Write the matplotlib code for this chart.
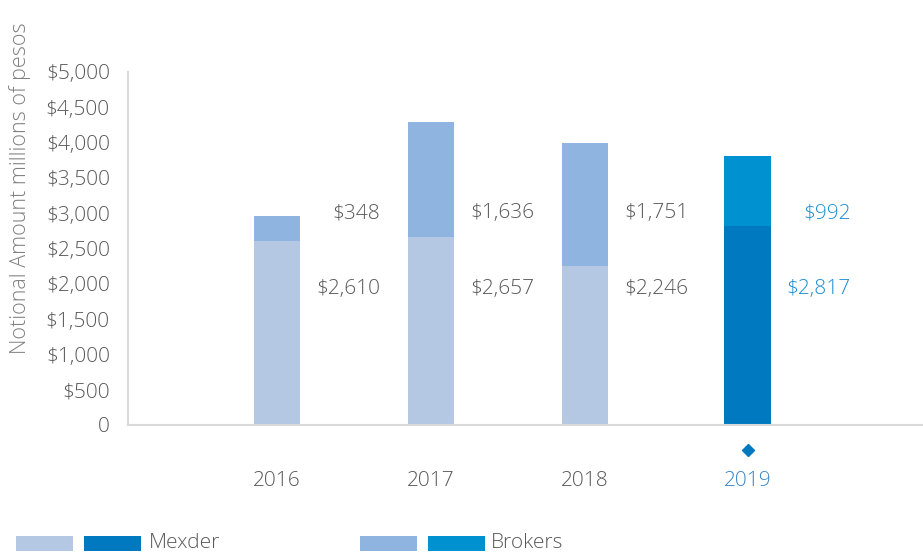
import matplotlib
matplotlib.use("Agg")
import matplotlib.pyplot as plt
from matplotlib.patches import Rectangle
from matplotlib.transforms import blended_transform_factory
import numpy as np

years = ["2016", "2017", "2018", "2019"]
mexder = [2610, 2657, 2246, 2817]
brokers = [348, 1636, 1751, 992]
mexder_labels = ["$2,610", "$2,657", "$2,246", "$2,817"]
brokers_labels = ["$348", "$1,636", "$1,751", "$992"]
yticks = [0, 500, 1000, 1500, 2000, 2500, 3000, 3500, 4000, 4500, 5000]
ytick_labels = ["0", "$500", "$1,000", "$1,500", "$2,000", "$2,500", "$3,000",
                "$3,500", "$4,000", "$4,500", "$5,000"]

plt.rcParams['font.family'] = ['Open Sans', 'DejaVu Sans']
plt.rcParams['font.weight'] = 'light'

GRAY = "#595959"
C_MEX_LIGHT = "#B4C8E3"
C_MEX_DARK = "#0079C1"
C_BRK_LIGHT = "#8EB4DF"
C_BRK_DARK = "#0091D1"
C_HL_TEXT = "#1E8FD2"
C_HL_TICK = "#3A84C5"
FS = 15

fig = plt.figure(figsize=(9.23, 5.54), dpi=100)
ax = fig.add_axes([128/923, 129/554, 794/923, 353/554])

highlight = np.array([y == "2019" for y in years])
# highlighted year sits slightly apart from the others
x = np.arange(len(years)) + 0.055 * highlight
mex_colors = [C_MEX_DARK if h else C_MEX_LIGHT for h in highlight]
brk_colors = [C_BRK_DARK if h else C_BRK_LIGHT for h in highlight]

ax.bar(x, mexder, width=0.30, color=mex_colors, linewidth=0)
ax.bar(x, brokers, width=0.30, bottom=mexder, color=brk_colors, linewidth=0)

ax.set_xlim(-0.968, 4.188)
ax.set_ylim(0, 5000)

for i in range(len(years)):
    col = C_HL_TEXT if highlight[i] else GRAY
    ax.text(x[i] + 0.67, 1925, mexder_labels[i], ha="right", va="center",
            fontsize=FS, color=col, fontweight="light")
    ax.text(x[i] + 0.67, 3000, brokers_labels[i], ha="right", va="center",
            fontsize=FS, color=col, fontweight="light")

ax.set_yticks(yticks)
ax.set_yticklabels(ytick_labels, fontsize=FS, color=GRAY, fontweight="light")
ax.set_xticks(x)
ax.set_xticklabels(years, fontsize=FS, color=GRAY, fontweight="light")
for lbl, h in zip(ax.get_xticklabels(), highlight):
    if h:
        lbl.set_color(C_HL_TICK)
ax.tick_params(axis="both", length=0)
ax.tick_params(axis="x", pad=33)
ax.tick_params(axis="y", pad=13)

for s in ["top", "right"]:
    ax.spines[s].set_visible(False)
for s in ["left", "bottom"]:
    ax.spines[s].set_color("#D9D9D9")
    ax.spines[s].set_linewidth(1.5)

trans = blended_transform_factory(ax.transData, ax.transAxes)
for i in range(len(years)):
    if highlight[i]:
        ax.plot([x[i]], [-0.07], marker="D", markersize=6, color=C_MEX_DARK,
                transform=trans, clip_on=False)

fig.text(20/923, 1 - 188/554, "Notional Amount millions of pesos", rotation=90,
         ha="center", va="center", fontsize=15.5, color="#808080", fontweight="light")

# legend
def legend_entry(x0, x1, xt, c1, c2, label):
    h = 15/554
    w = 57/923
    y0 = 1 - 551/554
    fig.add_artist(Rectangle((x0/923, y0), w, h, transform=fig.transFigure,
                             color=c1, linewidth=0))
    fig.add_artist(Rectangle((x1/923, y0), w, h, transform=fig.transFigure,
                             color=c2, linewidth=0))
    fig.text(xt/923, y0 + h/2, label, ha="left", va="center",
             fontsize=FS, color=GRAY, fontweight="light")

legend_entry(16, 84, 149, C_MEX_LIGHT, C_MEX_DARK, "Mexder")
legend_entry(360, 428, 491, C_BRK_LIGHT, C_BRK_DARK, "Brokers")

fig.savefig("out.png", dpi=100)
